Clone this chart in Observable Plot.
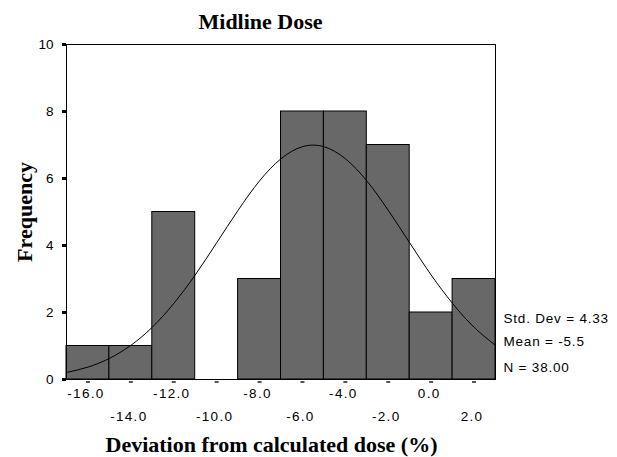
<!DOCTYPE html>
<html><head><meta charset="utf-8">
<script src="https://cdn.jsdelivr.net/npm/d3@7"></script>
<script src="https://cdn.jsdelivr.net/npm/@observablehq/plot@0.6"></script>
<style>
body{margin:0;background:#fff}
</style>
</head><body><div id="chart"></div>
<script>
const binCenters = [-16, -14, -12, -10, -8, -6, -4, -2, 0, 2];
const binCounts  = [1, 1, 5, 0, 3, 8, 8, 7, 2, 3];
const binWidth = 2;
const curveX = [-17, -16, -15, -14, -13, -12, -11, -10, -9, -8, -7, -6, -5, -4, -3, -2, -1, 0, 1, 2, 3];
const curveY = [0.21, 0.37, 0.63, 1.02, 1.56, 2.27, 3.12, 4.08, 5.05, 5.93, 6.59, 6.95, 6.95, 6.59, 5.93, 5.05, 4.08, 3.12, 2.27, 1.56, 1.02];
const yTicks = [0, 2, 4, 6, 8, 10];
const xTicksUpper = [-16, -12, -8, -4, 0];
const xLabelsUpper = ["-16.0", "-12.0", "-8.0", "-4.0", "0.0"];
const xTicksLower = [-14, -10, -6, -2, 2];
const xLabelsLower = ["-14.0", "-10.0", "-6.0", "-2.0", "2.0"];
const statsLines = ["Std. Dev = 4.33", "Mean = -5.5", "N = 38.00"];
const titleText = "Midline Dose";
const xTitle = "Deviation from calculated dose (%)";
const yTitle = "Frequency";

const bars = binCenters.map((c, i) => ({c, n: binCounts[i]}));
const curve = curveX.map((x, i) => ({x, y: curveY[i]}));
const serif = "'Liberation Serif', 'Times New Roman', serif";
const statsDy = [-57, -34, -8];

const chart = Plot.plot({
  width: 617, height: 457,
  marginLeft: 66, marginRight: 122, marginTop: 44, marginBottom: 78,
  x: {domain: [-17, 3]},
  y: {domain: [0, 10]},
  style: {fontFamily: "'Liberation Sans', Arial, sans-serif", fontSize: "13px", background: "#fff", color: "#000", overflow: "visible"},
  marks: [
    Plot.rectY(bars, {x1: d => d.c - binWidth / 2, x2: d => d.c + binWidth / 2, y: "n", fill: "#686868", stroke: "#000", strokeWidth: 1}),
    Plot.line(curve, {x: "x", y: "y", curve: "natural", stroke: "#000", strokeWidth: 1}),
    Plot.frame({stroke: "#000", strokeWidth: 1}),
    Plot.axisY(yTicks, {tickSize: 4, tickPadding: 9, strokeWidth: 3, tickFormat: d => String(d), label: null, fontSize: 13.5}),
    Plot.axisX(binCenters, {tickSize: 2, strokeWidth: 4, dy: 2, stroke: "#555", fill: "none", label: null}),
    Plot.text(xTicksUpper, {x: d => d, text: (d, i) => xLabelsUpper[i], frameAnchor: "bottom", lineAnchor: "bottom", dy: 18, dx: -2, fontSize: 13.5}),
    Plot.text(xTicksLower, {x: d => d, text: (d, i) => xLabelsLower[i], frameAnchor: "bottom", lineAnchor: "bottom", dy: 41, dx: -2, fontSize: 13.5}),
    ...statsLines.map((s, i) => Plot.text([s], {text: d => d, frameAnchor: "bottom-right", textAnchor: "start", lineAnchor: "bottom", dx: 8, dy: statsDy[i], fontSize: 13.5})),
    Plot.text([titleText], {text: d => d, frameAnchor: "top-left", textAnchor: "start", lineAnchor: "bottom", dx: 132, dy: -16, fontFamily: serif, fontWeight: "bold", fontSize: 22}),
    Plot.text([xTitle], {text: d => d, frameAnchor: "bottom", textAnchor: "middle", lineAnchor: "bottom", dx: -9.5, dy: 72, fontFamily: serif, fontWeight: "bold", fontSize: 22}),
    Plot.text([yTitle], {text: d => d, frameAnchor: "left", textAnchor: "middle", lineAnchor: "bottom", rotate: -90, dx: -35, dy: 0, fontFamily: serif, fontWeight: "bold", fontSize: 22})
  ]
});
const xLabSet = new Set([...xLabelsUpper, ...xLabelsLower]);
const statSet = new Set(statsLines);
chart.querySelectorAll("text").forEach(t => {
  const s = t.textContent;
  if (xLabSet.has(s)) t.style.letterSpacing = "1.3px";
  else if (statSet.has(s)) t.style.letterSpacing = "0.8px";
});
document.getElementById("chart").appendChild(chart);
</script>
</body></html>
